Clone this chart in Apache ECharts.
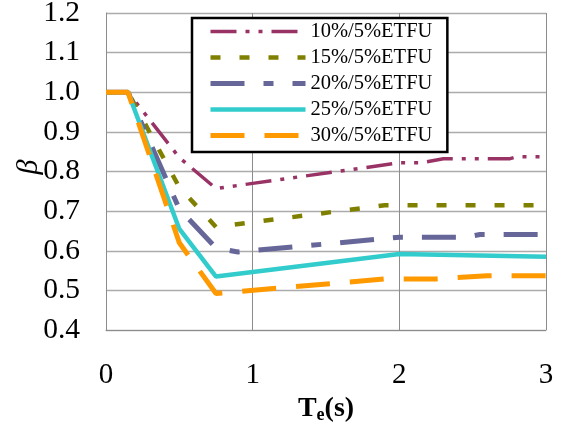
<!DOCTYPE html>
<html>
<head>
<meta charset="utf-8">
<script src="https://cdn.jsdelivr.net/npm/echarts@6/dist/echarts.min.js"></script>
<style>
  html, body { margin: 0; padding: 0; background: #fff; }
  #chart { width: 568px; height: 436px; }
</style>
</head>
<body>
<div id="chart"></div>
<script>
// Te (s) / beta pairs, one pair of arrays per curve
const seriesNames = ['10%/5%ETFU', '15%/5%ETFU', '20%/5%ETFU', '25%/5%ETFU', '30%/5%ETFU']

const te10 = [0, 0.15, 0.5, 0.75, 1, 2, 2.15, 2.3, 2.75, 2.8, 3]
const beta10 = [1, 1, 0.835, 0.757, 0.77, 0.822, 0.822, 0.832, 0.832, 0.837, 0.837]

const te15 = [0, 0.15, 0.5, 0.75, 1.9, 3]
const beta15 = [1, 1, 0.76, 0.66, 0.715, 0.715]

const te20 = [0, 0.15, 0.5, 0.75, 0.9, 2, 2.45, 2.55, 3]
const beta20 = [1, 1, 0.705, 0.607, 0.597, 0.634, 0.634, 0.641, 0.641]

const te25 = [0, 0.15, 0.5, 0.75, 2, 3]
const beta25 = [1, 1, 0.655, 0.535, 0.592, 0.585]

const te30 = [0, 0.15, 0.5, 0.75, 1.9, 2.25, 2.6, 3]
const beta30 = [1, 1, 0.62, 0.492, 0.529, 0.529, 0.537, 0.537]

const xTicks = [0, 1, 2, 3]
const yTicks = [0.4, 0.5, 0.6, 0.7, 0.8, 0.9, 1.0, 1.1, 1.2]

const serif = 'Liberation Serif'

function pairs(xs, ys) {
  return xs.map((x, i) => [x, ys[i]])
}

// colour, width and dash pattern per curve
const looks = [
  { color: '#993366', width: 3.5, type: [26, 9, 4, 9, 4, 9] },
  { color: '#808000', width: 4.5, type: [10, 19] },
  { color: '#666699', width: 5, type: [34, 19, 10, 19] },
  { color: '#33CCCC', width: 4.5, type: 'solid' },
  { color: '#FF9900', width: 5, type: [34, 20] }
]
const curves = [pairs(te10, beta10), pairs(te15, beta15), pairs(te20, beta20), pairs(te25, beta25), pairs(te30, beta30)]

const chart = echarts.init(document.getElementById('chart'), null, { renderer: 'canvas' })

chart.setOption({
  animation: false,
  backgroundColor: '#fff',
  grid: { left: 106, right: 22, top: 13, bottom: 106, outerBoundsMode: 'none' },
  legend: {
    orient: 'vertical',
    left: 192,
    top: 18,
    padding: [3, 15, 6, 16],
    itemWidth: 95,
    itemHeight: 14,
    itemGap: 5,
    borderColor: '#000',
    borderWidth: 2.5,
    backgroundColor: '#fff',
    data: seriesNames,
    itemStyle: { opacity: 0 },
    lineStyle: { width: 'inherit', type: 'inherit' },
    textStyle: { fontFamily: serif, fontSize: 20.5, lineHeight: 20, color: '#000' }
  },
  // beta title, turned to read bottom to top
  graphic: [{
    type: 'group',
    x: 29,
    y: 167,
    rotation: Math.PI / 2,
    children: [{
      type: 'text',
      x: 0,
      y: 0,
      style: {
        text: 'β',
        fontFamily: serif,
        fontStyle: 'italic',
        fontSize: 30,
        fill: '#000',
        align: 'center',
        verticalAlign: 'middle'
      }
    }]
  }],
  xAxis: {
    type: 'value',
    min: xTicks[0],
    max: xTicks[xTicks.length - 1],
    interval: 1,
    name: '{b|T}{s|e}{b|(s)}',
    nameLocation: 'middle',
    nameGap: 64,
    nameTextStyle: {
      rich: {
        b: { fontFamily: serif, fontWeight: 'bold', fontSize: 28, color: '#000' },
        s: { fontFamily: serif, fontWeight: 'bold', fontSize: 18, color: '#000', verticalAlign: 'bottom', padding: [12, 0, 0, 0] }
      }
    },
    axisLine: { lineStyle: { color: '#8c8c8c', width: 1 } },
    axisTick: { show: false },
    axisLabel: { fontFamily: serif, fontSize: 29, color: '#000', margin: 31 },
    splitLine: { show: true, lineStyle: { color: '#8c8c8c', width: 1 } }
  },
  yAxis: {
    type: 'value',
    min: yTicks[0],
    max: yTicks[yTicks.length - 1],
    interval: 0.1,
    axisLine: { show: true, lineStyle: { color: '#8c8c8c', width: 1 } },
    axisTick: { show: false },
    axisLabel: { fontFamily: serif, fontSize: 29.5, color: '#000', margin: 26, formatter: v => v.toFixed(1) },
    splitLine: { show: true, lineStyle: { color: '#ababab', width: 1.3 } }
  },
  series: seriesNames.map((name, i) => ({
    name: name,
    type: 'line',
    symbol: 'none',
    data: curves[i],
    lineStyle: { color: looks[i].color, width: looks[i].width, type: looks[i].type, cap: 'butt' },
    itemStyle: { color: looks[i].color }
  }))
})
</script>
</body>
</html>
